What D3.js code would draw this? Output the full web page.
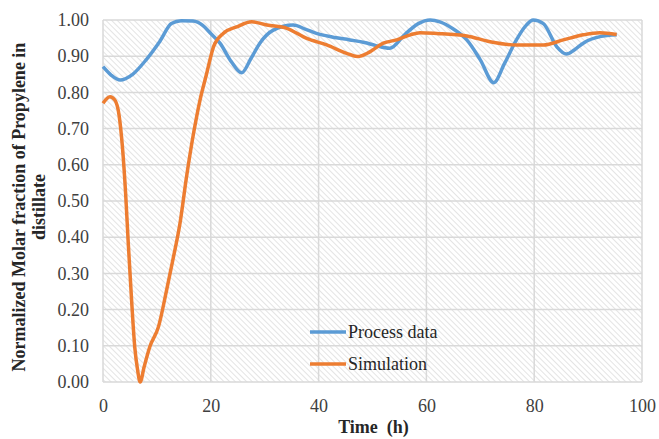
<!DOCTYPE html>
<html><head><meta charset="utf-8">
<script src="https://cdn.jsdelivr.net/npm/d3@7"></script>
<style>body{margin:0;background:#fff}svg{display:block}</style>
</head><body>
<svg id="c" width="659" height="439"></svg>
<script>
const xTicks = [0,20,40,60,80,100];
const yTicks = [0,0.1,0.2,0.3,0.4,0.5,0.6,0.7,0.8,0.9,1.0];
const seriesNames = ["Process data","Simulation"];
const processT = [0,1.5,3.2,5.5,8,10.5,12.7,14.5,16.7,18.5,19.9,21.7,23.8,25.7,27.5,29.1,31.6,35.3,37.5,39.6,42.5,45.8,48.5,50.5,53.2,56,58.5,60.7,62.5,65,67.5,70,72.5,74.5,76.7,78.5,79.8,81.7,84.2,86,87.5,89.1,92.2,95.3];
const processV = [0.871,0.848,0.834,0.85,0.89,0.94,0.99,0.998,0.997,0.985,0.964,0.936,0.885,0.854,0.895,0.936,0.972,0.986,0.975,0.963,0.953,0.945,0.938,0.93,0.922,0.96,0.99,1.0,0.995,0.975,0.945,0.89,0.827,0.88,0.945,0.985,1.0,0.99,0.926,0.906,0.918,0.936,0.954,0.959];
const simT = [0,1.3,2.2,3.0,3.6,4.2,4.7,5.3,5.9,6.4,6.9,7.6,8.7,10.3,11.8,13.0,14.3,15.5,16.8,18.0,19.2,20.5,22.3,24.8,27.6,30.4,34.1,37.8,41.5,45.2,47.2,49.5,52,54.5,57,58.8,61.9,67.5,71.8,76.7,81.7,85.4,89.1,92.2,95.3];
const simV = [0.77,0.788,0.779,0.735,0.65,0.52,0.38,0.227,0.095,0.035,0.0,0.04,0.098,0.153,0.254,0.34,0.44,0.567,0.687,0.779,0.85,0.926,0.963,0.981,0.995,0.986,0.977,0.949,0.931,0.908,0.899,0.912,0.936,0.945,0.959,0.965,0.963,0.956,0.94,0.931,0.931,0.945,0.959,0.965,0.96];

const FONT = '"Liberation Serif", "Times New Roman", serif';
const svg = d3.select("#c");
const L=103, R=642, T=20, B=382;
const x = d3.scaleLinear().domain([0,100]).range([L,R]);
const y = d3.scaleLinear().domain([0,1]).range([B,T]);

const defs = svg.append("defs");
const pat = defs.append("pattern").attr("id","hatch").attr("patternUnits","userSpaceOnUse")
  .attr("width",4).attr("height",4).attr("patternTransform","rotate(-45)");
pat.append("rect").attr("width",4).attr("height",4).attr("fill","#ffffff");
pat.append("line").attr("x1",0).attr("y1",0).attr("x2",0).attr("y2",4).attr("stroke","#d2d2d2").attr("stroke-width",1.2);

svg.append("rect").attr("x",L).attr("y",T).attr("width",R-L).attr("height",B-T).attr("fill","url(#hatch)");

const g = svg.append("g");
g.selectAll(".hg").data(yTicks).join("line").attr("x1",L).attr("x2",R)
  .attr("y1",d=>y(d)).attr("y2",d=>y(d)).attr("stroke","#d9d9d9").attr("stroke-width",1.5);
g.selectAll(".vg").data(xTicks).join("line").attr("y1",T).attr("y2",B)
  .attr("x1",d=>x(d)).attr("x2",d=>x(d)).attr("stroke","#d9d9d9").attr("stroke-width",1.5);

const yAxis = d3.axisLeft(y).tickValues(yTicks).tickFormat(d3.format(".2f")).tickSize(0).tickPadding(14);
const ya = svg.append("g").attr("transform",`translate(${L},0)`).call(yAxis);
ya.select(".domain").remove();
ya.attr("font-family",FONT).attr("font-size",18);
ya.selectAll("text").style("font-family",FONT).style("font-size","18px").attr("fill","#404040");
const xAxis = d3.axisBottom(x).tickValues(xTicks).tickSize(0).tickPadding(17);
const xa = svg.append("g").attr("transform",`translate(0,${B})`).call(xAxis);
xa.select(".domain").remove();
xa.attr("font-family",FONT).attr("font-size",18);
xa.selectAll("text").style("font-family",FONT).style("font-size","18px").attr("fill","#404040");

const line = d3.line().x(d=>x(d[0])).y(d=>y(d[1])).curve(d3.curveMonotoneX);
const colors = ["#5B9BD5","#ED7D31"];
svg.append("path").datum(processT.map((t,i)=>[t,processV[i]])).attr("d",line)
  .attr("fill","none").attr("stroke",colors[0]).attr("stroke-width",3.5).attr("stroke-linejoin","round");
svg.append("path").datum(simT.map((t,i)=>[t,simV[i]])).attr("d",line)
  .attr("fill","none").attr("stroke",colors[1]).attr("stroke-width",3.5).attr("stroke-linejoin","round");

const leg = svg.append("g");
seriesNames.forEach((n,i)=>{
  const yy = 332 + i*32;
  leg.append("line").attr("x1",310).attr("x2",346).attr("y1",yy).attr("y2",yy).attr("stroke",colors[i]).attr("stroke-width",3.5);
  leg.append("text").attr("x",348).attr("y",yy+6).text(n).style("font-family",FONT).style("font-size","18px").attr("fill","#262626");
});

svg.append("text").attr("x",(L+R)/2+1).attr("y",433).attr("text-anchor","middle")
  .style("font-family",FONT).style("font-weight","bold").style("font-size","18px").attr("fill","#262626")
  .style("white-space","pre").text("Time  (h)");
const yt = svg.append("text").attr("transform","translate(25,207) rotate(-90)").attr("text-anchor","middle")
  .style("font-family",FONT).style("font-weight","bold").style("font-size","18px").attr("fill","#262626");
yt.append("tspan").attr("x",0).attr("dy",0).text("Normalized Molar fraction of Propylene in");
yt.append("tspan").attr("x",0).attr("dy",20).text("distillate");
</script>
</body></html>
